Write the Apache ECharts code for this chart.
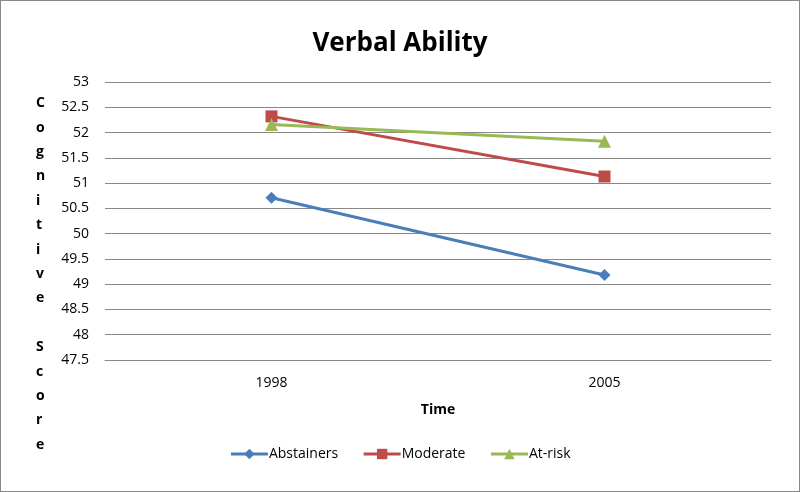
<!DOCTYPE html>
<html><head><meta charset="utf-8">
<script src="https://cdn.jsdelivr.net/npm/echarts@6/dist/echarts.min.js"></script>
<style>html,body{margin:0;padding:0;background:#fff}#c{width:798px;height:490px;border:1px solid #888}</style>
</head><body><div id="c"></div>
<script>
const categories = ['1998', '2005'];
const abstainers = [50.71, 49.18];
const moderate = [52.32, 51.13];
const atRisk = [52.16, 51.83];
const yTitle = 'Cognitive Score';

const chart = echarts.init(document.getElementById('c'));
chart.setOption({
  animation: false,
  title: { text: 'Verbal Ability', left: 'center', top: 25,
    textStyle: { fontFamily: 'Open Sans', fontWeight: 'bold', fontSize: 26, color: '#000' } },
  grid: { left: 104, right: 28, top: 81, bottom: 131 },
  legend: { bottom: 25, left: 'center', itemWidth: 37, itemHeight: 13, itemGap: 24,
    textStyle: { fontFamily: 'Open Sans', fontSize: 14, color: '#000', padding: [0, 0, 0, -4] },
    lineStyle: { width: 3 },
    data: ['Abstainers', 'Moderate', 'At-risk'] },
  graphic: [{ type: 'text', left: 35, top: 90,
    style: { text: yTitle.split('').join('\n'), fontFamily: 'Open Sans', fontWeight: 'bold',
      fontSize: 14, lineHeight: 24.4, fill: '#000', align: 'center' } }],
  xAxis: { type: 'category', data: categories, name: 'Time', nameLocation: 'middle', nameGap: 43,
    nameTextStyle: { fontFamily: 'Open Sans', fontWeight: 'bold', fontSize: 14, color: '#000' },
    axisLine: { lineStyle: { color: '#888' } }, axisTick: { show: false },
    axisLabel: { fontFamily: 'Open Sans', fontSize: 14, color: '#000', margin: 16 } },
  yAxis: { type: 'value', min: 47.5, max: 53, interval: 0.5,
    axisLine: { show: false }, axisTick: { show: false },
    splitLine: { lineStyle: { color: '#888', width: 1 } },
    axisLabel: { fontFamily: 'Open Sans', fontSize: 14, color: '#000', margin: 16 } },
  series: [
    { name: 'Abstainers', type: 'line', data: abstainers, symbol: 'diamond', symbolSize: 12,
      itemStyle: { color: '#4a7ebb' }, lineStyle: { width: 3, color: '#4a7ebb' } },
    { name: 'Moderate', type: 'line', data: moderate, symbol: 'rect', symbolSize: 12,
      itemStyle: { color: '#be4b48' }, lineStyle: { width: 3, color: '#be4b48' } },
    { name: 'At-risk', type: 'line', data: atRisk, symbol: 'triangle', symbolSize: 13,
      itemStyle: { color: '#98b954' }, lineStyle: { width: 3, color: '#98b954' } }
  ]
});
</script></body></html>
